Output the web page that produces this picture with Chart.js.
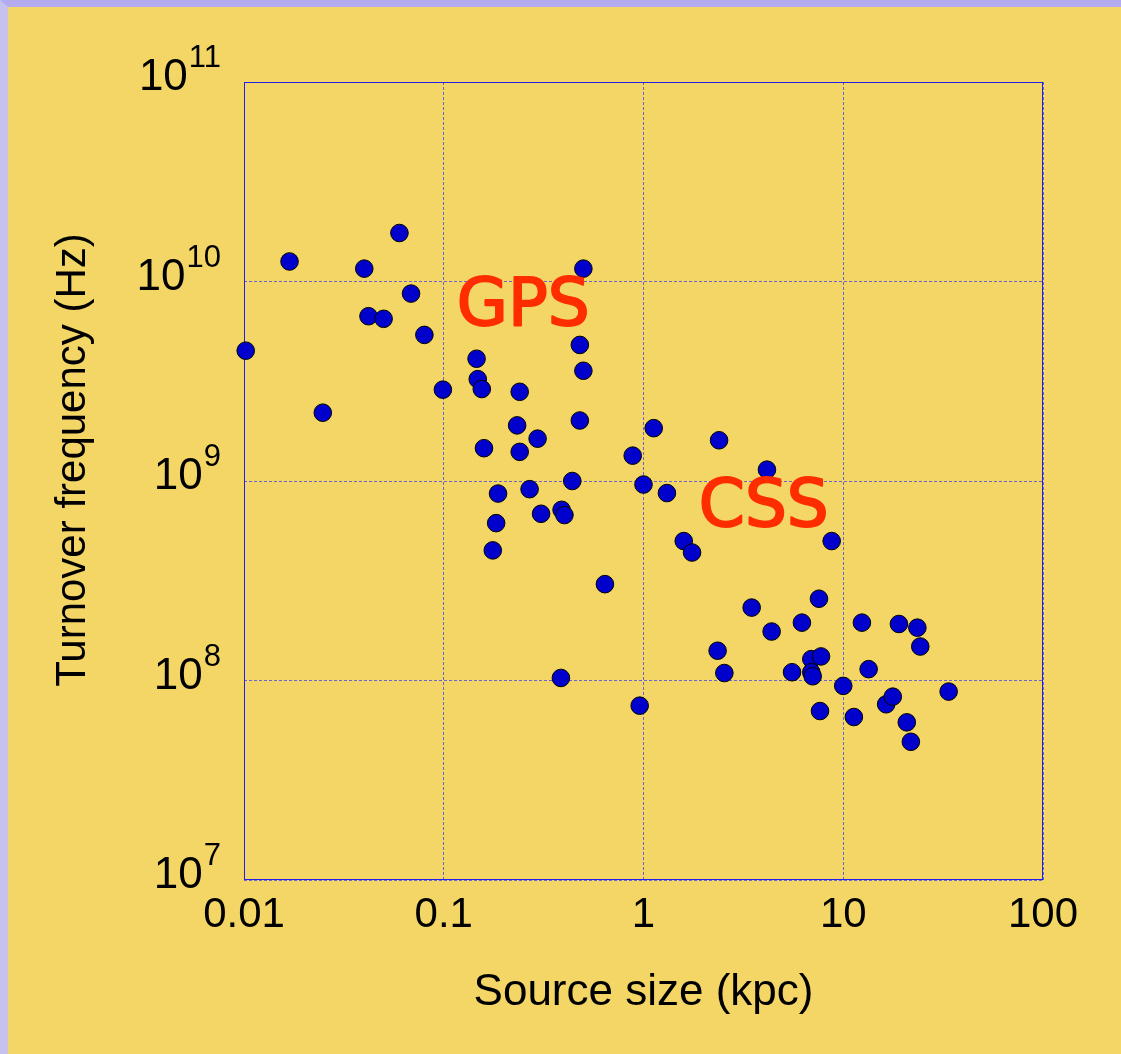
<!DOCTYPE html>
<html>
<head>
<meta charset="utf-8">
<script src="https://cdn.jsdelivr.net/npm/chart.js@4/dist/chart.umd.min.js"></script>
<style>
  html, body { margin: 0; padding: 0; background: #f4d666; }
  #page {
    position: absolute; left: 0; top: 0;
    width: 1113px; height: 1047px;
    border-top: 7px solid #b4aaf0;
    border-left: 8px solid #c6c2f0;
    background: #f4d666;
  }
  canvas { display: block; }
</style>
</head>
<body>
<div id="page"><canvas id="turnoverChart" width="1113" height="1047"></canvas></div>
<script>
// source size in kpc, turnover frequency in Hz
const sizeKpc = [
  0.0102, 0.0169, 0.0248, 0.040, 0.042, 0.050, 0.060, 0.0686, 0.080, 0.099,
  0.146, 0.148, 0.155, 0.159, 0.176, 0.183, 0.187, 0.233, 0.24, 0.24,
  0.269, 0.295, 0.307, 0.386, 0.389, 0.402, 0.44, 0.48, 0.48, 0.50,
  0.50, 0.641, 0.883, 0.957, 1.0, 1.125, 1.31, 1.59, 1.75, 2.35,
  2.39, 2.54, 3.48, 4.15, 4.38, 5.54, 6.21, 6.92, 6.92, 7.03,
  7.56, 7.74, 7.65, 8.75, 10.0, 11.3, 12.4, 13.4, 16.4, 17.7,
  19.0, 20.8, 21.8, 23.5, 24.3, 33.7
];
const freqHz = [
  4.5e9, 1.26e10, 2.2e9, 1.16e10, 6.7e9, 6.5e9, 1.75e10, 8.7e9, 5.4e9, 2.87e9,
  4.1e9, 3.24e9, 2.89e9, 1.46e9, 4.49e8, 6.15e8, 8.65e8, 1.9e9, 2.8e9, 1.4e9,
  9.1e8, 1.63e9, 6.85e8, 1.03e8, 7.17e8, 6.75e8, 1.0e9, 2.01e9, 4.81e9, 1.16e10,
  3.57e9, 3.04e8, 1.34e9, 7.48e7, 9.6e8, 1.84e9, 8.7e8, 5.0e8, 4.38e8, 1.41e8,
  1.6e9, 1.09e8, 2.32e8, 1.14e9, 1.76e8, 1.1e8, 1.95e8, 1.28e8, 1.1e8, 1.05e8,
  2.57e8, 1.32e8, 7.03e7, 5.0e8, 9.4e7, 6.56e7, 1.95e8, 1.14e8, 7.6e7, 8.3e7,
  1.92e8, 6.17e7, 4.93e7, 1.84e8, 1.48e8, 8.8e7
];

const xTickValues = [0.01, 0.1, 1, 10, 100];
const xTickLabels = ["0.01", "0.1", "1", "10", "100"];
const yTickValues = [1e7, 1e8, 1e9, 1e10, 1e11];

// region labels, placed in data coordinates
const regionLabels = [
  { text: "GPS", x: 0.25, y: 7.4e9 },
  { text: "CSS", x: 4.0, y: 7.26e8 }
];

const labelFont = "Liberation Sans, Arial, sans-serif";
const gridColor = "rgba(80,80,225,0.85)";

const decorations = {
  id: "decorations",
  beforeDatasetsDraw(chart) {
    const { ctx, chartArea: a } = chart;
    ctx.save();
    ctx.strokeStyle = "#2020e8";
    ctx.lineWidth = 1;
    ctx.strokeRect(a.left + 0.5, a.top + 0.5, a.right - a.left - 1, a.bottom - a.top - 1);
    ctx.restore();
  },
  afterDatasetsDraw(chart) {
    const { ctx } = chart;
    const xs = chart.scales.x, ys = chart.scales.y;
    ctx.save();

    // y tick labels as powers of ten
    ctx.fillStyle = "#000";
    ctx.textBaseline = "alphabetic";
    const rightEdge = xs.left - 23;
    yTickValues.forEach((v) => {
      const py = ys.getPixelForValue(v);
      const exp = String(Math.round(Math.log10(v)));
      ctx.font = "31px " + labelFont;
      const ew = ctx.measureText(exp).width;
      ctx.textAlign = "left";
      ctx.fillText(exp, rightEdge - ew, py - 15);
      ctx.font = "44px " + labelFont;
      ctx.textAlign = "right";
      ctx.fillText("10", rightEdge - ew - 1, py + 8);
    });

    // y axis title
    ctx.translate(65, (ys.top + ys.bottom) / 2 - 21);
    ctx.rotate(-Math.PI / 2);
    ctx.font = "42px " + labelFont;
    ctx.textAlign = "center";
    ctx.textBaseline = "middle";
    ctx.fillText("Turnover frequency (Hz)", 0, 0);
    ctx.restore();

    // GPS / CSS
    ctx.save();
    ctx.font = "66px 'DejaVu Sans', sans-serif";
    ctx.textAlign = "center";
    ctx.textBaseline = "middle";
    ctx.fillStyle = "#ff2d00";
    ctx.strokeStyle = "#ff2d00";
    ctx.lineWidth = 2;
    ctx.lineJoin = "round";
    regionLabels.forEach((r) => {
      const px = xs.getPixelForValue(r.x);
      const py = ys.getPixelForValue(r.y);
      ctx.fillText(r.text, px, py);
      ctx.strokeText(r.text, px, py);
    });
    ctx.restore();
  }
};

new Chart(document.getElementById("turnoverChart"), {
  type: "scatter",
  data: {
    datasets: [
      {
        data: sizeKpc.map((s, i) => ({ x: s, y: freqHz[i] })),
        backgroundColor: "#0000cc",
        borderColor: "#000000",
        borderWidth: 1,
        pointRadius: 8.8,
        pointHoverRadius: 8.8,
        clip: false
      }
    ]
  },
  options: {
    responsive: false,
    animation: false,
    events: [],
    layout: { padding: { top: 75, right: 78, left: 0, bottom: 0 } },
    plugins: {
      legend: { display: false },
      tooltip: { enabled: false }
    },
    scales: {
      x: {
        type: "logarithmic",
        min: 0.01,
        max: 100,
        afterBuildTicks: (scale) => {
          scale.ticks = xTickValues.map((v) => ({ value: v }));
        },
        afterFit: (scale) => { scale.height = 174; },
        grid: { color: gridColor, lineWidth: 1, drawTicks: false },
        border: { display: false, dash: [3, 2] },
        ticks: {
          padding: 10,
          color: "#000",
          font: { family: labelFont, size: 42 },
          maxRotation: 0,
          autoSkip: false,
          callback: (v, i) => xTickLabels[i]
        },
        title: {
          display: true,
          text: "Source size (kpc)",
          color: "#000",
          font: { family: labelFont, size: 44 },
          padding: { top: 0, bottom: 35 }
        }
      },
      y: {
        type: "logarithmic",
        min: 1e7,
        max: 1e11,
        afterBuildTicks: (scale) => {
          scale.ticks = yTickValues.map((v) => ({ value: v }));
        },
        afterFit: (scale) => { scale.width = 236; },
        grid: { color: gridColor, lineWidth: 1, drawTicks: false },
        border: { display: false, dash: [3, 2] },
        ticks: { display: false }
      }
    }
  },
  plugins: [decorations]
});
</script>
</body>
</html>
